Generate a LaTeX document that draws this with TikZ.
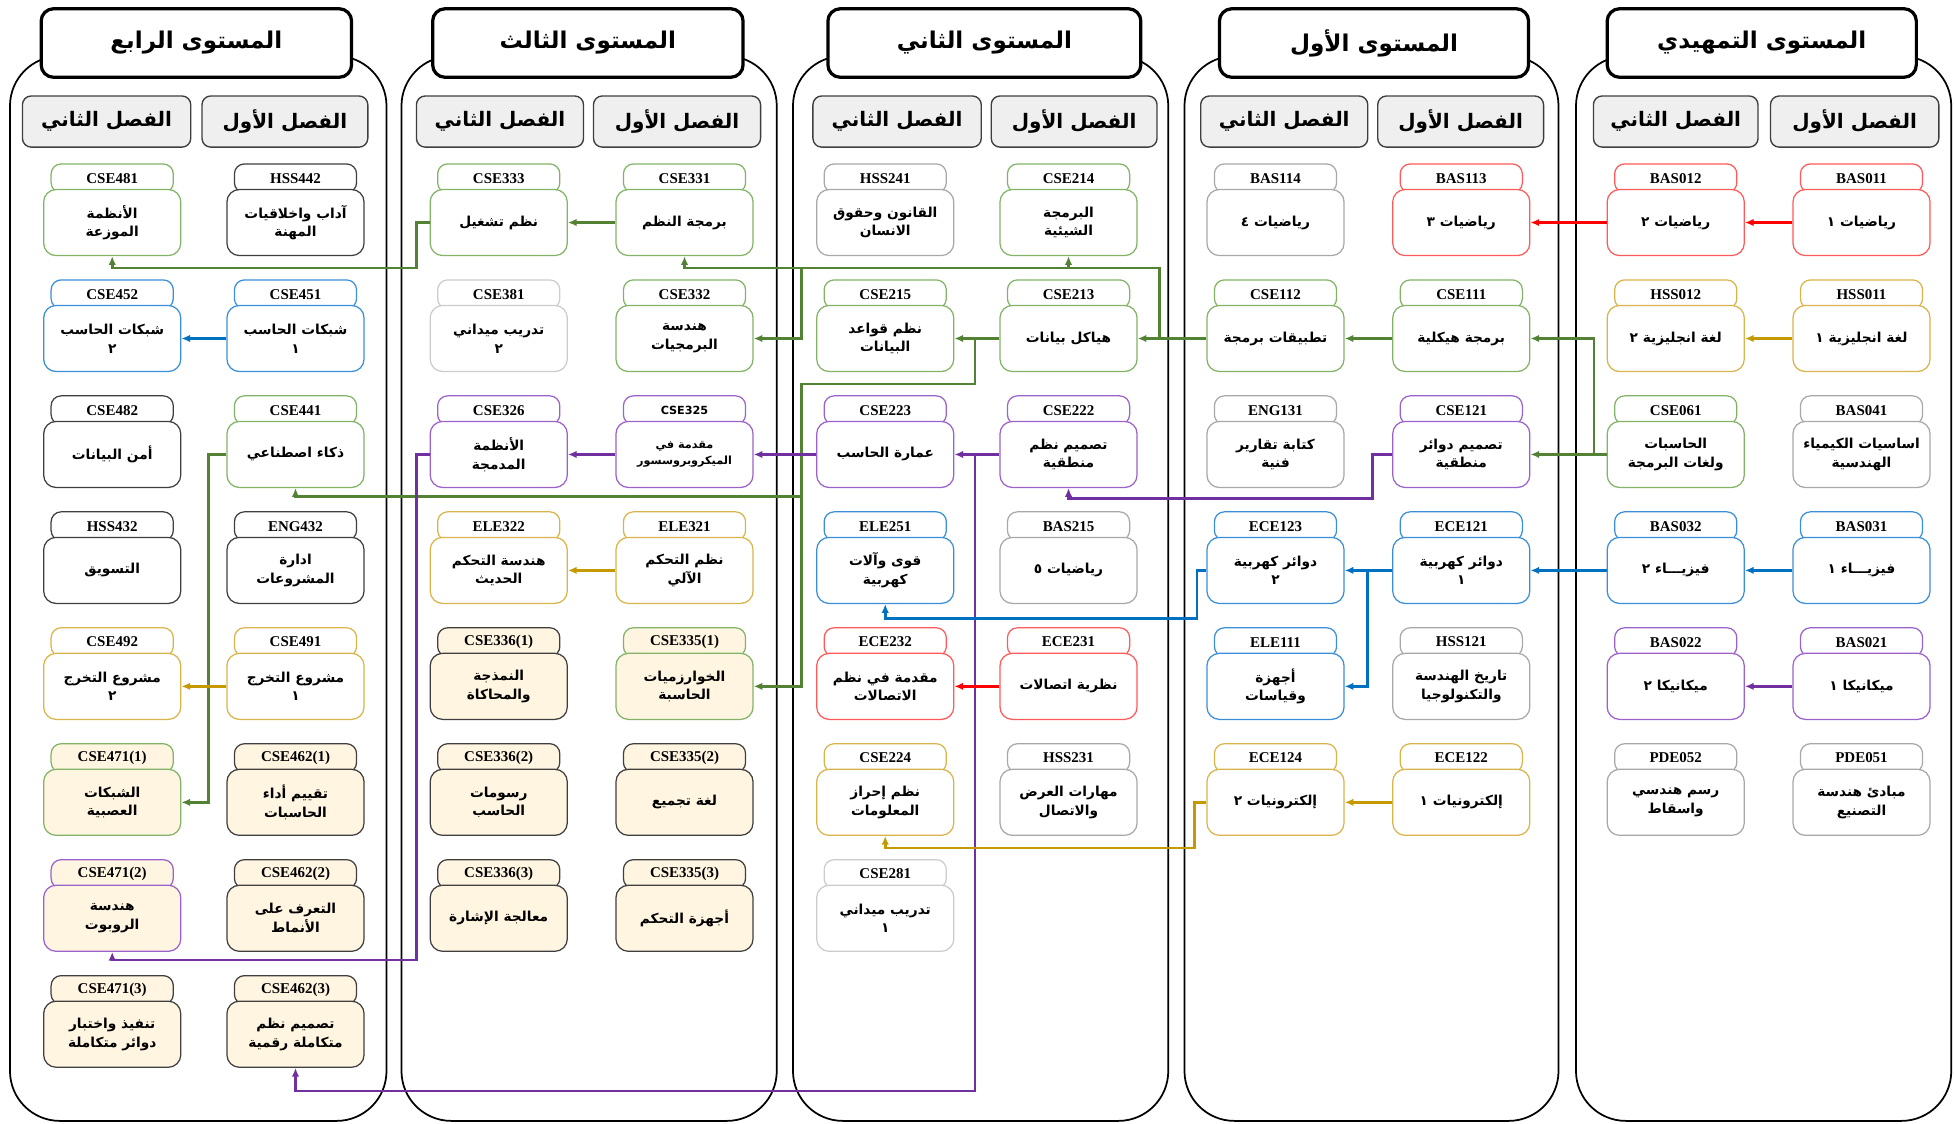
\documentclass[tikz,border=0pt]{standalone}
\usepackage{fontspec}
\setmainfont{Liberation Serif}
\newfontfamily\arabicfont[Script=Arabic]{DejaVu Sans}
\TeXXeTstate=1
\usetikzlibrary{arrows.meta}
\definecolor{lRed}{HTML}{FF0000}
\definecolor{bRed}{HTML}{FF5A5A}
\definecolor{lGold}{HTML}{C49A00}
\definecolor{bGold}{HTML}{D9B44A}
\definecolor{lGreen}{HTML}{548235}
\definecolor{bGreen}{HTML}{82B366}
\definecolor{lBlue}{HTML}{0070C0}
\definecolor{bBlue}{HTML}{3A8FD8}
\definecolor{lPurple}{HTML}{7030A0}
\definecolor{bPurple}{HTML}{9B62CC}
\definecolor{bGray}{HTML}{A8A8A8}
\definecolor{bLight}{HTML}{CCCCCC}
\definecolor{bDark}{HTML}{3F3F3F}
\definecolor{cream}{HTML}{FFF5E1}
\definecolor{hdrFill}{HTML}{EFEFEF}
\newcommand\ar[1]{\beginR #1\endR}
\newcommand\course[6]{%
  \pgfmathsetmacro\crsT{131+93*(#3-1)}%
  \node[tabbox,#6] (#1-t) at (#2,\crsT+12) {#4};
  \node[bodybox,#6] (#1) at (#2,\crsT+47.5) {#5};
}
\begin{document}
\begin{tikzpicture}[x=1pt,y=-1pt,
  container/.style={draw=black,line width=1.4pt,rounded corners=40pt},
  titlebox/.style={draw=black,line width=2.6pt,rounded corners=10pt,fill=white,minimum height=55pt,inner sep=0pt,font=\arabicfont\bfseries\fontsize{18.5}{22}\selectfont},
  hdrbox/.style={draw=bDark,line width=1.1pt,rounded corners=7pt,fill=hdrFill,minimum height=41pt,inner sep=0pt,font=\arabicfont\bfseries\fontsize{16}{19}\selectfont},
  tabbox/.style={draw,line width=1pt,rounded corners=8pt,fill=white,minimum width=98pt,minimum height=23pt,inner sep=0pt,font=\bfseries\fontsize{12}{12}\selectfont},
  bodybox/.style={draw,line width=1pt,rounded corners=10pt,fill=white,minimum width=110pt,minimum height=53pt,inner sep=1pt,align=center,font=\arabicfont\bfseries\fontsize{11}{15}\selectfont},
  cred/.style={draw=bRed},
  cgold/.style={draw=bGold},
  cgreen/.style={draw=bGreen},
  cblue/.style={draw=bBlue},
  cpurple/.style={draw=bPurple},
  cgray/.style={draw=bGray},
  clight/.style={draw=bLight},
  cdark/.style={draw=bDark},
  cream/.style={fill=cream},
  ln/.style={line width=2.1pt,-{Latex[length=7pt,width=6pt]}}
]
\useasboundingbox (0,0) rectangle (1568,901);
% containers
\draw[container] (8,45) rectangle (310,899);
\draw[container] (322,45) rectangle (623,899);
\draw[container] (636,45) rectangle (937,899);
\draw[container] (950,45) rectangle (1250,899);
\draw[container] (1264,45) rectangle (1565,899);
% titles
\node[titlebox,minimum width=249pt] (t1) at (157.5,34.5) {\ar{المستوى الرابع}};
\node[titlebox,minimum width=249pt] (t2) at (471.5,34.5) {\ar{المستوى الثالث}};
\node[titlebox,minimum width=251pt] (t3) at (789.5,34.5) {\ar{المستوى الثاني}};
\node[titlebox,minimum width=248pt] (t4) at (1102,34.5) {\ar{المستوى الأول}};
\node[titlebox,minimum width=248pt] (t5) at (1413,34.5) {\ar{المستوى التمهيدي}};
% semester headers
\node[hdrbox,minimum width=135pt] (h1L) at (85.5,97.5) {\ar{الفصل الثاني}};
\node[hdrbox,minimum width=133pt] (h1R) at (228.5,97.5) {\ar{الفصل الأول}};
\node[hdrbox,minimum width=134pt] (h2L) at (401,97.5) {\ar{الفصل الثاني}};
\node[hdrbox,minimum width=134pt] (h2R) at (543,97.5) {\ar{الفصل الأول}};
\node[hdrbox,minimum width=135pt] (h3L) at (719.5,97.5) {\ar{الفصل الثاني}};
\node[hdrbox,minimum width=133pt] (h3R) at (861.5,97.5) {\ar{الفصل الأول}};
\node[hdrbox,minimum width=134pt] (h4L) at (1030,97.5) {\ar{الفصل الثاني}};
\node[hdrbox,minimum width=133pt] (h4R) at (1171.5,97.5) {\ar{الفصل الأول}};
\node[hdrbox,minimum width=132pt] (h5L) at (1344,97.5) {\ar{الفصل الثاني}};
\node[hdrbox,minimum width=135pt] (h5R) at (1487.5,97.5) {\ar{الفصل الأول}};
% col5
\course{bas011}{1493}{1}{BAS011}{\ar{رياضيات ١}}{cred}
\course{bas012}{1344}{1}{BAS012}{\ar{رياضيات ٢}}{cred}
\course{hss011}{1493}{2}{HSS011}{\ar{لغة انجليزية ١}}{cgold}
\course{hss012}{1344}{2}{HSS012}{\ar{لغة انجليزية ٢}}{cgold}
\course{bas041}{1493}{3}{BAS041}{\ar{اساسيات الكيمياء}\\\ar{الهندسية}}{cgray}
\course{cse061}{1344}{3}{CSE061}{\ar{الحاسبات}\\\ar{ولغات البرمجة}}{cgreen}
\course{bas031}{1493}{4}{BAS031}{\ar{فيزيـــاء ١}}{cblue}
\course{bas032}{1344}{4}{BAS032}{\ar{فيزيـــاء ٢}}{cblue}
\course{bas021}{1493}{5}{BAS021}{\ar{ميكانيكا ١}}{cpurple}
\course{bas022}{1344}{5}{BAS022}{\ar{ميكانيكا ٢}}{cpurple}
\course{pde051}{1493}{6}{PDE051}{\ar{مبادئ هندسة}\\\ar{التصنيع}}{cgray}
\course{pde052}{1344}{6}{PDE052}{\ar{رسم هندسي}\\\ar{واسقاط}}{cgray}
% col4
\course{bas113}{1172}{1}{BAS113}{\ar{رياضيات ٣}}{cred}
\course{bas114}{1023}{1}{BAS114}{\ar{رياضيات ٤}}{cgray}
\course{cse111}{1172}{2}{CSE111}{\ar{برمجة هيكلية}}{cgreen}
\course{cse112}{1023}{2}{CSE112}{\ar{تطبيقات برمجة}}{cgreen}
\course{cse121}{1172}{3}{CSE121}{\ar{تصميم دوائر}\\\ar{منطقية}}{cpurple}
\course{eng131}{1023}{3}{ENG131}{\ar{كتابة تقارير}\\\ar{فنية}}{cgray}
\course{ece121}{1172}{4}{ECE121}{\ar{دوائر كهربية}\\\ar{١}}{cblue}
\course{ece123}{1023}{4}{ECE123}{\ar{دوائر كهربية}\\\ar{٢}}{cblue}
\course{hss121}{1172}{5}{HSS121}{\ar{تاريخ الهندسة}\\\ar{والتكنولوجيا}}{cgray}
\course{ele111}{1023}{5}{ELE111}{\ar{أجهزة}\\\ar{وقياسات}}{cblue}
\course{ece122}{1172}{6}{ECE122}{\ar{إلكترونيات ١}}{cgold}
\course{ece124}{1023}{6}{ECE124}{\ar{إلكترونيات ٢}}{cgold}
% col3
\course{cse214}{857}{1}{CSE214}{\ar{البرمجة}\\\ar{الشيئية}}{cgreen}
\course{hss241}{710}{1}{HSS241}{\ar{القانون وحقوق}\\\ar{الانسان}}{cgray}
\course{cse213}{857}{2}{CSE213}{\ar{هياكل بيانات}}{cgreen}
\course{cse215}{710}{2}{CSE215}{\ar{نظم قواعد}\\\ar{البيانات}}{cgreen}
\course{cse222}{857}{3}{CSE222}{\ar{تصميم نظم}\\\ar{منطقية}}{cpurple}
\course{cse223}{710}{3}{CSE223}{\ar{عمارة الحاسب}}{cpurple}
\course{bas215}{857}{4}{BAS215}{\ar{رياضيات ٥}}{cgray}
\course{ele251}{710}{4}{ELE251}{\ar{قوى وآلات}\\\ar{كهربية}}{cblue}
\course{ece231}{857}{5}{ECE231}{\ar{نظرية اتصالات}}{cred}
\course{ece232}{710}{5}{ECE232}{\ar{مقدمة في نظم}\\\ar{الاتصالات}}{cred}
\course{hss231}{857}{6}{HSS231}{\ar{مهارات العرض}\\\ar{والاتصال}}{cgray}
\course{cse224}{710}{6}{CSE224}{\ar{نظم إحراز}\\\ar{المعلومات}}{cgold}
\course{cse281}{710}{7}{CSE281}{\ar{تدريب ميداني}\\\ar{١}}{clight}
% col2
\course{cse331}{549}{1}{CSE331}{\ar{برمجة النظم}}{cgreen}
\course{cse333}{400}{1}{CSE333}{\ar{نظم تشغيل}}{cgreen}
\course{cse332}{549}{2}{CSE332}{\ar{هندسة}\\\ar{البرمجيات}}{cgreen}
\course{cse381}{400}{2}{CSE381}{\ar{تدريب ميداني}\\\ar{٢}}{clight}
\course{cse325}{549}{3}{CSE325}{\ar{مقدمة في}\\\ar{الميكروبروسسور}}{cpurple,font=\arabicfont\bfseries\fontsize{9}{13}\selectfont}
\course{cse326}{400}{3}{CSE326}{\ar{الأنظمة}\\\ar{المدمجة}}{cpurple}
\course{ele321}{549}{4}{ELE321}{\ar{نظم التحكم}\\\ar{الآلي}}{cgold}
\course{ele322}{400}{4}{ELE322}{\ar{هندسة التحكم}\\\ar{الحديث}}{cgold}
\course{cse3351}{549}{5}{CSE335(1)}{\ar{الخوارزميات}\\\ar{الحاسبة}}{cgreen,cream}
\course{cse3361}{400}{5}{CSE336(1)}{\ar{النمذجة}\\\ar{والمحاكاة}}{cdark,cream}
\course{cse3352}{549}{6}{CSE335(2)}{\ar{لغة تجميع}}{cdark,cream}
\course{cse3362}{400}{6}{CSE336(2)}{\ar{رسومات}\\\ar{الحاسب}}{cdark,cream}
\course{cse3353}{549}{7}{CSE335(3)}{\ar{أجهزة التحكم}}{cdark,cream}
\course{cse3363}{400}{7}{CSE336(3)}{\ar{معالجة الإشارة}}{cdark,cream}
% col1
\course{hss442}{237}{1}{HSS442}{\ar{آداب واخلاقيات}\\\ar{المهنة}}{cdark}
\course{cse481}{90}{1}{CSE481}{\ar{الأنظمة}\\\ar{الموزعة}}{cgreen}
\course{cse451}{237}{2}{CSE451}{\ar{شبكات الحاسب}\\\ar{١}}{cblue}
\course{cse452}{90}{2}{CSE452}{\ar{شبكات الحاسب}\\\ar{٢}}{cblue}
\course{cse441}{237}{3}{CSE441}{\ar{ذكاء اصطناعي}}{cgreen}
\course{cse482}{90}{3}{CSE482}{\ar{أمن البيانات}}{cdark}
\course{eng432}{237}{4}{ENG432}{\ar{ادارة}\\\ar{المشروعات}}{cdark}
\course{hss432}{90}{4}{HSS432}{\ar{التسويق}}{cdark}
\course{cse491}{237}{5}{CSE491}{\ar{مشروع التخرج}\\\ar{١}}{cgold}
\course{cse492}{90}{5}{CSE492}{\ar{مشروع التخرج}\\\ar{٢}}{cgold}
\course{cse4621}{237}{6}{CSE462(1)}{\ar{تقييم أداء}\\\ar{الحاسبات}}{cdark,cream}
\course{cse4711}{90}{6}{CSE471(1)}{\ar{الشبكات}\\\ar{العصبية}}{cgreen,cream}
\course{cse4622}{237}{7}{CSE462(2)}{\ar{التعرف على}\\\ar{الأنماط}}{cdark,cream}
\course{cse4712}{90}{7}{CSE471(2)}{\ar{هندسة}\\\ar{الروبوت}}{cpurple,cream}
\course{cse4623}{237}{8}{CSE462(3)}{\ar{تصميم نظم}\\\ar{متكاملة رقمية}}{cdark,cream}
\course{cse4713}{90}{8}{CSE471(3)}{\ar{تنفيذ واختبار}\\\ar{دوائر متكاملة}}{cdark,cream}
% junction coordinates
\coordinate (g1) at (930,215);
\coordinate (g2) at (643,215);
\coordinate (g3) at (782,271.5);
\coordinate (g4) at (643,308);
\coordinate (g5) at (643,398);
\coordinate (g6) at (334,215);
\coordinate (g7) at (167,364.5);
\coordinate (p1) at (1101,400);
\coordinate (p2) at (782,364.5);
\coordinate (p3) at (782,875);
\coordinate (p4) at (334,770);
\coordinate (b1) at (1097,457.5);
\coordinate (b2) at (960,496);
\coordinate (o1) at (958,680);
% connectors
\draw[ln,lRed] (bas011.west) -- (bas012.east);
\draw[ln,lRed] (bas012.west) -- (bas113.east);
\draw[ln,lGold] (hss011.west) -- (hss012.east);
\draw[ln,lGreen] (cse061.west) -- (cse121.east);
\draw[ln,lGreen] (cse061.west) -- ++(-10,0) |- (cse111.east);
\draw[ln,lBlue] (bas031.west) -- (bas032.east);
\draw[ln,lBlue] (bas032.west) -- (ece121.east);
\draw[ln,lPurple] (bas021.west) -- (bas022.east);
\draw[ln,lGreen] (cse111.west) -- (cse112.east);
\draw[ln,lGreen] (cse112.west) -- (cse213.east);
\draw[ln,lGreen] (cse112.west) -| (g1) -| (cse214.south);
\draw[ln,lGreen] (g1) -| (cse331.south);
\draw[ln,lGreen] (g2) |- (cse332.east);
\draw[ln,lGreen] (cse213.west) -- (cse215.east);
\draw[ln,lGreen] (g3) |- (g4) |- (cse3351.east);
\draw[ln,lGreen] (g5) -| (cse441.south);
\draw[ln,lGreen] (cse331.west) -- (cse333.east);
\draw[ln,lGreen] (cse333.west) -| (g6) -| (cse481.south);
\draw[ln,lGreen] (cse441.west) -- (g7) |- (cse4711.east);
\draw[ln,lBlue] (cse451.west) -- (cse452.east);
\draw[ln,lGold] (cse491.west) -- (cse492.east);
\draw[ln,lPurple] (cse121.west) -| (p1) -| (cse222.south);
\draw[ln,lPurple] (cse222.west) -- (cse223.east);
\draw[ln,lPurple] (p2) -- (p3) -| (cse4623.south);
\draw[ln,lPurple] (cse223.west) -- (cse325.east);
\draw[ln,lPurple] (cse325.west) -- (cse326.east);
\draw[ln,lPurple] (cse326.west) -| (p4) -| (cse4712.south);
\draw[ln,lBlue] (ece121.west) -- (ece123.east);
\draw[ln,lBlue] (b1) |- (ele111.east);
\draw[ln,lBlue] (ece123.west) -| (b2) -| (ele251.south);
\draw[ln,lGold] (ece122.west) -- (ece124.east);
\draw[ln,lGold] (ece124.west) -| (o1) -| (cse224.south);
\draw[ln,lRed] (ece231.west) -- (ece232.east);
\draw[ln,lGold] (ele321.west) -- (ele322.east);
\end{tikzpicture}
\end{document}
